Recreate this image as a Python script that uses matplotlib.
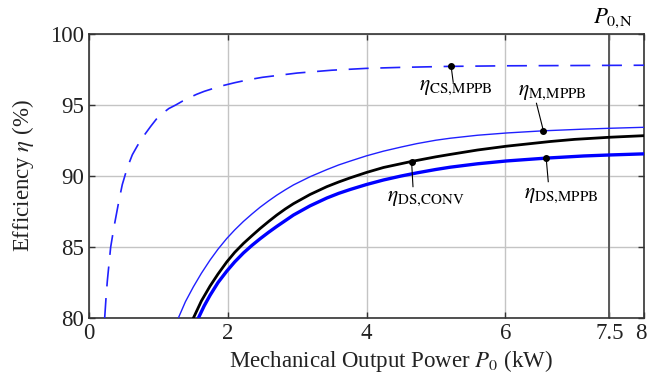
import numpy as np
import matplotlib
matplotlib.use("Agg")
import matplotlib.pyplot as plt
import matplotlib.transforms as mtransforms

plt.rcParams['font.family'] = ['Liberation Serif', 'DejaVu Serif']
plt.rcParams['mathtext.fontset'] = 'stix'

# efficiency curves (x in kW, y in %)
cs_x = [0.226, 0.245, 0.264, 0.312, 0.36, 0.433, 0.48, 0.553, 0.625, 0.7, 0.77, 0.89, 0.97,
        1.058, 1.15, 1.25, 1.35, 1.44, 1.55, 1.66, 1.75, 1.875, 2.1, 2.3, 2.5, 3.0, 3.5,
        4.0, 4.5, 5.2, 6.0, 7.0, 8.0]
cs_y = [80.0, 81.4, 82.6, 84.98, 86.4, 88.3, 89.4, 90.6, 91.5, 92.15, 92.7, 93.5, 94.0,
        94.4, 94.75, 95.0, 95.28, 95.5, 95.75, 95.96, 96.1, 96.3, 96.57, 96.78, 96.95, 97.25, 97.45,
        97.58, 97.65, 97.72, 97.76, 97.78, 97.8]

m_x = [1.288, 1.39, 1.505, 1.62, 1.745, 1.86, 1.986, 2.1, 2.226, 2.35, 2.466, 2.59, 2.707,
       2.83, 2.947, 3.187, 3.428, 3.6, 3.765, 4.0, 4.245, 4.5, 4.726, 5.0, 5.207, 5.6,
       6.02, 6.54, 7.13, 7.5, 8.0]
m_y = [80.0, 81.15, 82.2, 83.15, 84.08, 84.85, 85.6, 86.2, 86.8, 87.33, 87.8, 88.25, 88.65,
       89.03, 89.37, 89.95, 90.45, 90.78, 91.05, 91.42, 91.75, 92.04, 92.28, 92.52, 92.66, 92.87,
       93.03, 93.18, 93.3, 93.36, 93.43]

conv_x = [1.505, 1.62, 1.745, 1.86, 1.986, 2.1, 2.226, 2.35, 2.466, 2.59, 2.707, 2.83, 2.947,
          3.187, 3.428, 3.6, 3.765, 4.0, 4.245, 4.645, 5.0, 5.207, 5.6, 6.02, 6.65, 7.0, 7.51, 8.0]
conv_y = [80.0, 81.2, 82.25, 83.1, 83.95, 84.62, 85.25, 85.8, 86.3, 86.8, 87.25, 87.68, 88.05,
          88.7, 89.25, 89.58, 89.87, 90.25, 90.6, 91.02, 91.35, 91.52, 91.83, 92.1, 92.43, 92.58, 92.73, 92.84]

ds_x = [1.577, 1.66, 1.745, 1.86, 1.986, 2.1, 2.226, 2.35, 2.466, 2.59, 2.707, 2.83, 2.947,
        3.187, 3.428, 3.6, 3.765, 4.0, 4.245, 4.5, 4.726, 5.0, 5.207, 5.6, 6.02, 6.59, 7.13, 7.5, 8.0]
ds_y = [80.0, 80.85, 81.6, 82.5, 83.3, 83.95, 84.58, 85.12, 85.58, 86.04, 86.45, 86.86, 87.25,
        87.9, 88.45, 88.78, 89.05, 89.4, 89.72, 90.0, 90.22, 90.46, 90.62, 90.86, 91.06, 91.26, 91.41, 91.48, 91.56]

# labelled points and their labels
labels = [r'$\eta_{\mathrm{CS,\!MPPB}}$', r'$\eta_{\mathrm{M,\!MPPB}}$',
          r'$\eta_{\mathrm{DS,\!CONV}}$', r'$\eta_{\mathrm{DS,\!MPPB}}$']
pt_x = [5.22, 6.55, 4.65, 6.59]
pt_y = [97.72, 93.18, 91.02, 91.26]
lead_x = [5.25, 6.45, 4.67, 6.62]
lead_y = [96.6, 95.12, 89.25, 89.6]
txt_x = [5.29, 6.68, 4.85, 6.81]
txt_y = [96.2, 95.9, 88.4, 88.66]

P_nom = 7.5

fig = plt.figure(figsize=(6.48, 3.74), dpi=100)
ax = fig.add_axes([89/648, 56/374, 555/648, 284/374])

ax.grid(True, color='#c4c4c4', lw=1.0)
ax.axvline(P_nom, color='#5a5a5a', lw=1.4, zorder=2)

ax.plot(cs_x, cs_y, color='#2020ff', lw=1.2, dashes=(12, 7), zorder=3)
ax.plot(m_x, m_y, color='#2020ff', lw=1.0, zorder=3)
ax.plot(conv_x, conv_y, color='black', lw=2.0, zorder=3)
ax.plot(ds_x, ds_y, color='#0000ff', lw=2.4, zorder=3)

for i in range(len(labels)):
    ax.plot([pt_x[i], lead_x[i]], [pt_y[i], lead_y[i]], color='black', lw=0.8, zorder=4)
    ax.plot(pt_x[i], pt_y[i], 'o', color='black', ms=4, zorder=5)
    ax.text(txt_x[i], txt_y[i], labels[i], fontsize=15.5, ha='center', va='center')

ax.text(P_nom + 0.05, 100.25, r'$P_{\mathrm{0,\!N}}$', fontsize=16.5, ha='center', va='bottom')

ax.set_xlim(0, 8)
ax.set_ylim(80, 100)
ax.set_xticks([0, 2, 4, 6, 7.5, 8])
ax.set_xticklabels(['0', '2', '4', '6', '7.5', '8'])
ax.set_yticks([80, 85, 90, 95, 100])
ax.tick_params(direction='in', length=4, width=1, labelsize=16.5, top=True, right=True,
               colors='#333333', labelcolor='#222222')
for s in ax.spines.values():
    s.set_color('#333333')
    s.set_linewidth(1.2)

# keep the last tick label inside the figure
last = ax.get_xticklabels()[-1]
last.set_transform(last.get_transform() + mtransforms.ScaledTranslation(-2.5/72, 0, fig.dpi_scale_trans))

ax.set_xlabel(r'Mechanical Output Power $P_0$ (kW)', fontsize=16.5, labelpad=0, color='#222222')
ax.xaxis.set_label_coords(0.544, -0.105)
ax.set_ylabel(r'Efficiency $\eta$ (%)', fontsize=16.5, labelpad=10, color='#222222')

fig.savefig('out.png', dpi=100)
